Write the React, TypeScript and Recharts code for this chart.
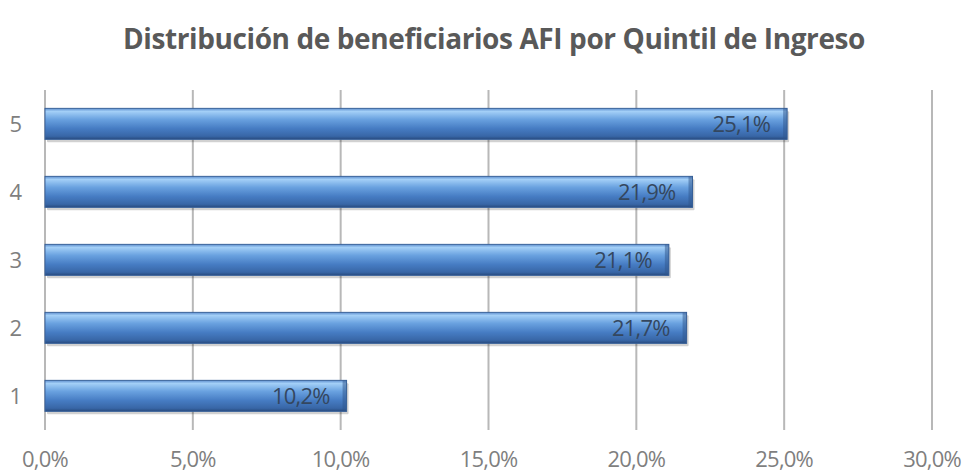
import React from 'react';
import { BarChart, Bar, XAxis, YAxis, CartesianGrid, LabelList } from 'recharts';

// Quintiles de ingreso y porcentaje de beneficiarios
const quintiles = ['1', '2', '3', '4', '5'];
const beneficiarios = [10.2, 21.7, 21.1, 21.9, 25.1];
const xTicks = [0, 5, 10, 15, 20, 25, 30];

const data = quintiles.map((q, i) => ({ q, value: beneficiarios[i] }));

const FONT = '"Open Sans", "DejaVu Sans", sans-serif';
const fmt = (v: number) => `${v.toFixed(1).replace('.', ',')}%`;

const BevelBar = (props: any) => {
    const { x, y, width, height } = props;
    if (!width || width <= 0) return null;
    return (
        <g>
            <rect x={x + 2} y={y + 3} width={width} height={height} fill="#000" opacity={0.18} rx={1} />
            <rect x={x} y={y} width={width} height={height} fill="url(#barGrad)" stroke="#3a639b" strokeWidth={1} />
            <rect x={x + width - 4} y={y} width={4} height={height} fill="#2f568c" opacity={0.5} />
        </g>
    );
};

const App: React.FC = () => {
    return (
        <div style={{ position: 'absolute', left: 0, top: 0, width: 968, height: 476, background: '#fff', fontFamily: FONT }}>
            <div
                style={{
                    position: 'absolute', left: 0, top: 19, width: 988, textAlign: 'center',
                    fontSize: 28, fontWeight: 700, color: '#595959', letterSpacing: -0.4,
                }}
            >
                Distribución de beneficiarios AFI por Quintil de Ingreso
            </div>
            <BarChart
                width={968}
                height={476}
                data={data}
                layout="vertical"
                barCategoryGap="27%"
                margin={{ top: 90, right: 36, bottom: 0, left: 0 }}
            >
                <defs>
                    <linearGradient id="barGrad" x1="0" y1="0" x2="0" y2="1">
                        <stop offset="0%" stopColor="#5f8fcf" />
                        <stop offset="10%" stopColor="#a3cff7" />
                        <stop offset="35%" stopColor="#6aa2e0" />
                        <stop offset="65%" stopColor="#467cc3" />
                        <stop offset="90%" stopColor="#3866a6" />
                        <stop offset="100%" stopColor="#264a7d" />
                    </linearGradient>
                </defs>
                <CartesianGrid horizontal={false} stroke="#b8b8b8" strokeWidth={2} />
                <XAxis
                    type="number"
                    domain={[0, 30]}
                    ticks={xTicks}
                    tickFormatter={fmt}
                    axisLine={false}
                    tickLine={false}
                    tickSize={0}
                    tickMargin={21}
                    height={46}
                    interval={0}
                    tick={{ fill: '#7f7f7f', fontSize: 22, fontFamily: FONT, letterSpacing: -0.8 }}
                />
                <YAxis
                    type="category"
                    dataKey="q"
                    reversed
                    width={45}
                    axisLine={false}
                    tickLine={false}
                    tickSize={0}
                    tickMargin={23}
                    tick={{ fill: '#7f7f7f', fontSize: 22, fontFamily: FONT }}
                />
                <Bar dataKey="value" shape={BevelBar} isAnimationActive={false}>
                    <LabelList
                        dataKey="value"
                        position="insideRight"
                        offset={17}
                        formatter={(v: any) => fmt(Number(v))}
                        style={{ fill: '#34475f', fontSize: 22, fontFamily: FONT, letterSpacing: -0.8 }}
                    />
                </Bar>
            </BarChart>
        </div>
    );
};

export default App;
